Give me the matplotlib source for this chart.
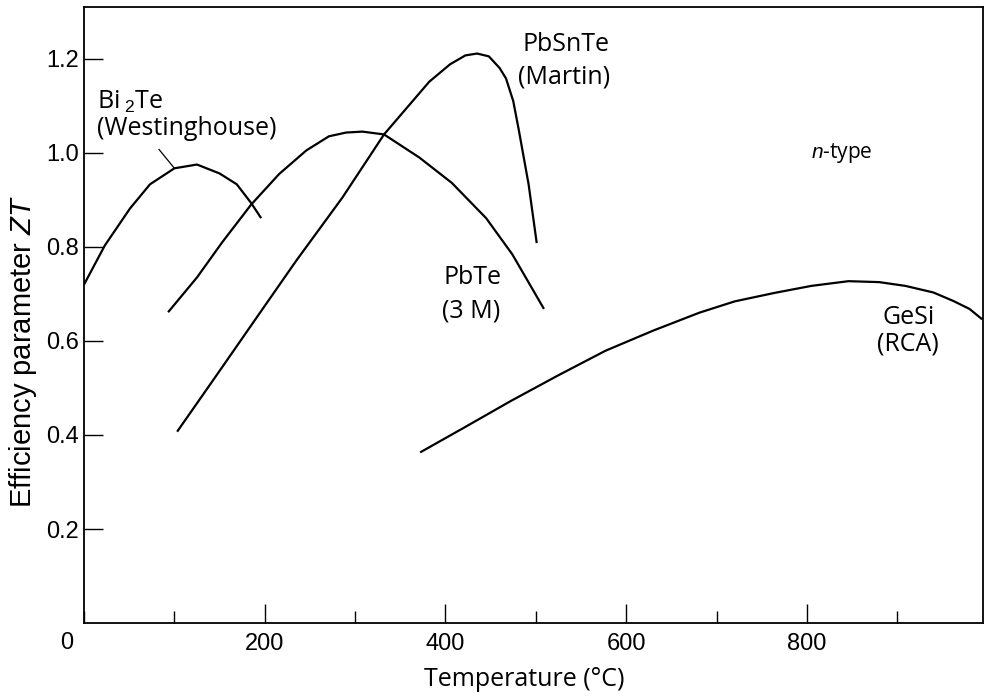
import matplotlib
matplotlib.use("Agg")
import matplotlib.pyplot as plt
from matplotlib.ticker import MultipleLocator

# curves (temperature in deg C, ZT)
bi2te_t = [0, 23, 51, 73, 100, 125, 150, 169, 185, 196]
bi2te_zt = [0.72, 0.803, 0.882, 0.933, 0.967, 0.975, 0.956, 0.933, 0.893, 0.861]

pbte_t = [93, 125, 153, 185, 216, 246, 271, 290, 308, 332, 371, 407, 445, 474, 509]
pbte_zt = [0.661, 0.735, 0.81, 0.89, 0.955, 1.005, 1.035, 1.043, 1.045, 1.039, 0.99, 0.936, 0.861, 0.784, 0.668]

pbsnte_t = [103, 147, 198, 235, 286, 332, 382, 405, 422, 435, 448, 460, 467, 475, 481, 492, 501]
pbsnte_zt = [0.407, 0.528, 0.669, 0.771, 0.905, 1.039, 1.151, 1.188, 1.207, 1.211, 1.205, 1.18, 1.158, 1.11, 1.05, 0.933, 0.808]

gesi_t = [372, 420, 473, 525, 577, 630, 681, 720, 764, 805, 846, 880, 909, 940, 962, 980, 994]
gesi_zt = [0.363, 0.415, 0.473, 0.527, 0.579, 0.622, 0.66, 0.684, 0.702, 0.717, 0.727, 0.725, 0.717, 0.703, 0.685, 0.668, 0.646]

xtick_vals = [200, 400, 600, 800]
ytick_vals = [0.2, 0.4, 0.6, 0.8, 1.0, 1.2]

plt.rcParams['font.family'] = ['Liberation Sans', 'DejaVu Sans']
plt.rcParams['mathtext.fontset'] = 'custom'
plt.rcParams['mathtext.it'] = 'Liberation Sans:italic'
plt.rcParams['mathtext.rm'] = 'Liberation Sans'

fig = plt.figure(figsize=(9.89, 6.97), dpi=100)
ax = fig.add_axes([0.085, 0.106, 0.909, 0.884])

for t, zt in [(bi2te_t, bi2te_zt), (pbte_t, pbte_zt), (pbsnte_t, pbsnte_zt), (gesi_t, gesi_zt)]:
    ax.plot(t, zt, color='black', lw=1.6, solid_capstyle='butt', solid_joinstyle='round')

# leader line for the Bi2Te label
ax.plot([83, 100], [1.007, 0.967], color='black', lw=0.9)

ax.set_xlim(0, 995)
ax.set_ylim(0, 1.31)
ax.set_xticks(xtick_vals)
ax.xaxis.set_minor_locator(MultipleLocator(100))
ax.set_yticks(ytick_vals)
ax.set_yticklabels([f"{v:.1f}" for v in ytick_vals])
ax.tick_params(axis='both', which='major', direction='in', length=14, width=1.0,
               labelsize=17)
ax.tick_params(axis='x', which='major', pad=7)
ax.tick_params(axis='y', which='major', pad=4)
ax.tick_params(axis='x', which='minor', direction='in', length=9, width=1.0)
for s in ax.spines.values():
    s.set_linewidth(1.3)

ax.annotate('0', xy=(0, 0), xycoords='axes fraction', xytext=(-17, -20),
            textcoords='offset pixels', ha='center', va='center', fontsize=17)

ax.set_xlabel('Temperature (°C)', fontsize=18, family=['Open Sans', 'DejaVu Sans'])
ax.xaxis.set_label_coords(0.49, -0.072)
ax.set_ylabel('Efficiency parameter $ZT$', fontsize=21)
ax.yaxis.set_label_coords(-0.05, 0.44)

lab = dict(fontsize=18, family=['Open Sans', 'DejaVu Sans'], va='center', ha='left')
ax.text(14, 1.108, 'Bi$_{\\ 2}$Te', **lab)
ax.text(14, 1.051, '(Westinghouse)', **lab)
ax.text(485, 1.23, 'PbSnTe', **lab)
ax.text(480, 1.162, '(Martin)', **lab)
ax.text(398, 0.734, 'PbTe', **lab)
ax.text(396, 0.664, '(3 M)', **lab)
ax.text(884, 0.649, 'GeSi', **lab)
ax.text(878, 0.594, '(RCA)', **lab)
ax.text(805, 1.0, '$n$-type', **dict(lab, fontsize=15))

fig.savefig('out.png', dpi=100)
